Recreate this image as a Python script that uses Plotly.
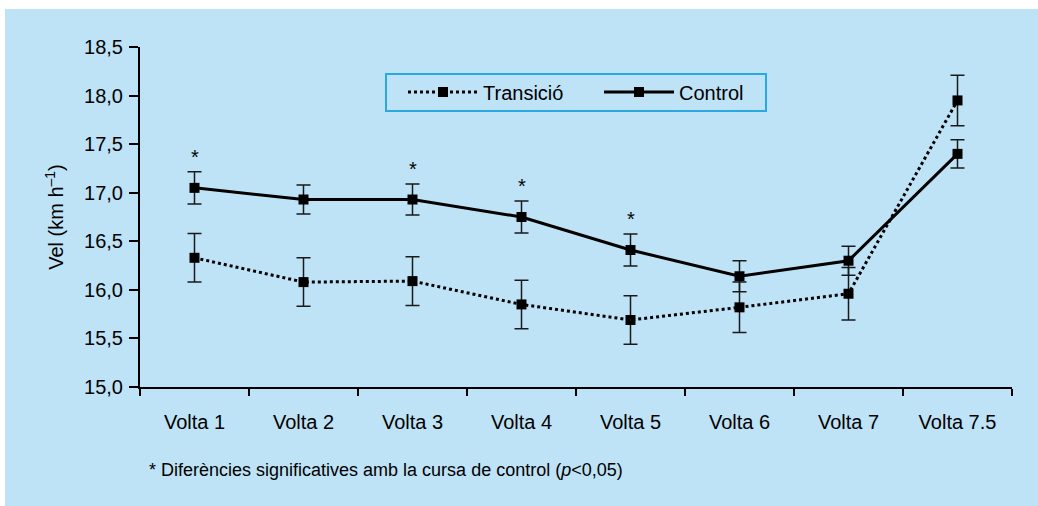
import plotly.graph_objects as go

categories = ["Volta 1", "Volta 2", "Volta 3", "Volta 4", "Volta 5", "Volta 6", "Volta 7", "Volta 7.5"]

transicio = [16.33, 16.08, 16.09, 15.85, 15.69, 15.82, 15.96, 17.95]
transicio_err = [0.25, 0.25, 0.25, 0.25, 0.25, 0.26, 0.27, 0.26]

control = [17.05, 16.93, 16.93, 16.75, 16.41, 16.14, 16.30, 17.40]
control_err = [0.165, 0.15, 0.16, 0.165, 0.165, 0.16, 0.15, 0.145]

significant = ["Volta 1", "Volta 3", "Volta 4", "Volta 5"]

PANEL = "#bee3f6"
PLOT_BG = "#d5ecf9"
FONT = "Liberation Sans, Arial, sans-serif"

# plot area in pixels: x 140..1012, y 47..387
L, R, T, B = 140, 26, 47, 119
W, H = 1038, 506
pw, ph = W - L - R, H - T - B

def px_x(x):
    return (x - L) / pw

def px_y(y):
    return (H - B - y) / ph

fig = go.Figure()

fig.add_trace(go.Scatter(
    x=categories, y=transicio, name="Transició", mode="lines+markers",
    line=dict(color="black", width=3, dash="3px,3px"),
    marker=dict(symbol="square", size=10, color="black"),
    error_y=dict(type="data", array=transicio_err, color="#1a1a1a", thickness=1.5, width=7),
))
fig.add_trace(go.Scatter(
    x=categories, y=control, name="Control", mode="lines+markers",
    line=dict(color="black", width=3),
    marker=dict(symbol="square", size=10, color="black"),
    error_y=dict(type="data", array=control_err, color="#1a1a1a", thickness=1.5, width=7),
))

for cat in significant:
    i = categories.index(cat)
    fig.add_annotation(x=cat, y=control[i] + control_err[i], text="*", showarrow=False,
                       yanchor="bottom", yshift=2, font=dict(size=20, color="black", family=FONT))

fig.add_annotation(xref="paper", yref="paper", x=px_x(147), y=px_y(470), xanchor="left", yanchor="middle",
                   text="* Diferències significatives amb la cursa de control (<i>p</i>&lt;0,05)",
                   showarrow=False, font=dict(size=18, color="black", family=FONT))

# outer light-blue panel
fig.add_shape(type="rect", xref="paper", yref="paper", layer="below",
              x0=px_x(5), x1=px_x(1040), y0=px_y(508), y1=px_y(9),
              fillcolor=PANEL, line=dict(width=0))
# legend frame
fig.add_shape(type="rect", xref="paper", yref="paper", layer="above",
              x0=px_x(386), x1=px_x(766), y0=px_y(111), y1=px_y(74),
              fillcolor=PANEL, line=dict(color="#2aa9e0", width=2))

fig.update_layout(
    width=W, height=H,
    margin=dict(l=L, r=R, t=T, b=B, pad=0),
    paper_bgcolor="white",
    plot_bgcolor=PLOT_BG,
    separators=",.",
    font=dict(family=FONT, size=20, color="black"),
    showlegend=True,
    legend=dict(
        orientation="h", x=px_x(403), y=px_y(92), xanchor="left", yanchor="middle",
        bgcolor="rgba(0,0,0,0)", borderwidth=0,
        font=dict(size=20, family=FONT, color="black"),
        itemwidth=70, entrywidth=111,
        traceorder="normal",
    ),
    xaxis=dict(
        type="category", showgrid=False, zeroline=False,
        showline=True, linecolor="black", linewidth=2,
        ticks="outside", tickson="boundaries", ticklen=7, tickcolor="black", tickwidth=1.5,
        ticklabelstandoff=16,
        range=[-0.5, 7.5],
        tickfont=dict(size=20),
    ),
    yaxis=dict(
        range=[15, 18.5], dtick=0.5, tickformat=".1f",
        showgrid=False, zeroline=False,
        showline=True, linecolor="black", linewidth=2,
        ticks="outside", ticklen=9, tickcolor="black", tickwidth=1.5,
        ticklabelstandoff=2,
        tickfont=dict(size=20),
        title=dict(text="Vel (km h<sup>–1</sup>)", font=dict(size=20), standoff=15),
    ),
)

fig.write_html("out.html", config={"displayModeBar": False},
               post_script="document.body.style.margin='0';document.body.style.overflow='hidden';")
